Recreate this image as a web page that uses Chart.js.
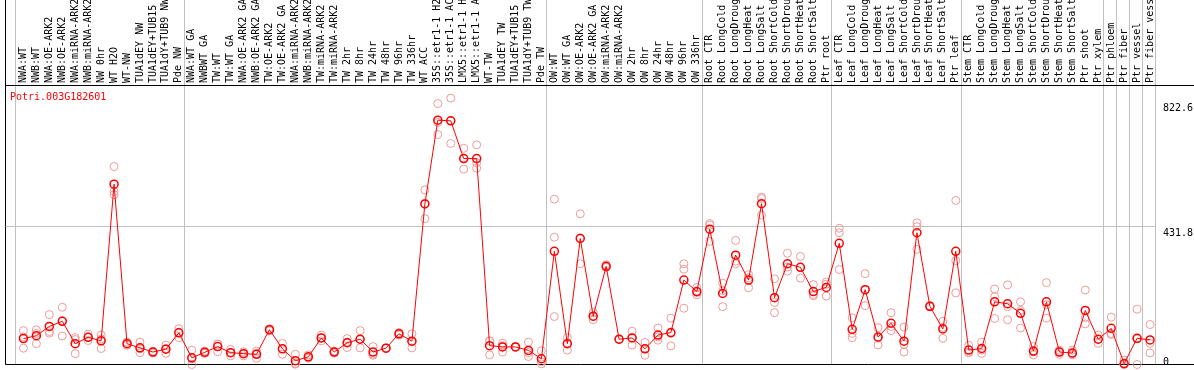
<!DOCTYPE html>
<html lang="en">
<head>
    <meta charset="UTF-8">
    <title>Potri.003G182601</title>
    <script src="https://cdn.jsdelivr.net/npm/chart.js@4.4.1/dist/chart.umd.min.js"></script>
    <style>
        body {
            margin: 0;
            background: #ffffff;
        }
        .chart-box {
            position: relative;
            width: 1194px;
            height: 370px;
        }
        .gene-name {
            position: absolute;
            left: 10px;
            top: 92px;
            font: 10px/10px 'DejaVu Sans Mono', monospace;
            color: #ff0000;
        }
    </style>
</head>
<body>
    <div class="chart-box">
        <canvas id="chart"></canvas>
        <div class="gene-name">Potri.003G182601</div>
    </div>

    <script>
        // Sample names, left to right
        const categories = [
            "NWA:WT", "NWB:WT", "NWA:OE-ARK2", "NWB:OE-ARK2", "NWA:miRNA-ARK2", "NWB:miRNA-ARK2",
            "NW 0hr", "WT H2O", "WT-NW", "TUA1dEY NW", "TUA1dEY+TUB15 NW", "TUA1dY+TUB9 NW", "Pde NW",
            "NWA:WT GA", "NWBWT GA", "TW:WT", "TW:WT GA", "NWA:OE-ARK2 GA", "NWB:OE-ARK2 GA",
            "TW:OE-ARK2", "TW:OE-ARK2 GA", "NWA:miRNA-ARK2 GA", "NWB:miRNA-ARK2 GA", "TW:miRNA-ARK2 GA",
            "TW:miRNA-ARK2", "TW 2hr", "TW 8hr", "TW 24hr", "TW 48hr", "TW 96hr", "TW 336hr", "WT ACC",
            "35S::etr1-1 H2O", "35S::etr1-1 ACC", "LMX5::etr1-1 H2O", "LMX5::etr1-1 ACC", "WT-TW",
            "TUA1dEY TW", "TUA1dEY+TUB15 TW", "TUA1dY+TUB9 TW", "Pde TW",
            "OW:WT", "OW:WT GA", "OW:OE-ARK2", "OW:OE-ARK2 GA", "OW:miRNA-ARK2", "OW:miRNA-ARK2 GA",
            "OW 2hr", "OW 8hr", "OW 24hr", "OW 48hr", "OW 96hr", "OW 336hr",
            "Root CTR", "Root LongCold", "Root LongDrought", "Root LongHeat", "Root LongSalt",
            "Root ShortCold", "Root ShortDrought", "Root ShortHeat", "Root ShortSalt", "Ptr root",
            "Leaf CTR", "Leaf LongCold", "Leaf LongDrought", "Leaf LongHeat", "Leaf LongSalt",
            "Leaf ShortCold", "Leaf ShortDrought", "Leaf ShortHeat", "Leaf ShortSalt", "Ptr leaf",
            "Stem CTR", "Stem LongCold", "Stem LongDrought", "Stem LongHeat", "Stem LongSalt",
            "Stem ShortCold", "Stem ShortDrought", "Stem ShortHeat", "Stem ShortSalt", "Ptr shoot", "Ptr xylem",
            "Ptr phloem", "Ptr fiber", "Ptr vessel", "Ptr fiber vessel"
        ];

        // number of samples in each block between the grey separators
        const groupSizes = [13, 28, 12, 10, 10, 11, 1, 1, 1, 1];

        // mean expression
        const meanValues = [
            81, 90, 119, 135, 65, 85, 74, 564, 65, 52, 39, 48, 99,
            21, 38, 56, 37, 34, 32, 109, 49, 12, 24, 83, 39, 68, 79, 39, 51, 96, 73, 502,
            764, 762, 644, 644, 59, 55, 55, 44, 18,
            354, 65, 394, 151, 307, 79, 83, 49, 92, 100, 264, 228,
            423, 222, 342, 264, 503, 209, 315, 304, 228, 241,
            379, 110, 234, 86, 129, 73, 412, 182, 111, 354,
            45, 50, 196, 190, 160, 42, 196, 39, 36, 169, 79,
            113, 3, 82, 77
        ];

        // replicates
        const rep1 = [
            106, 108, 156, 179, 84, 95, 92, 619, 70, 70, 40, 61, 112,
            45, 42, 64, 47, 40, 42, 112, 66, 32, 30, 92, 39, 81, 106, 56, 52, 100, 96, 546,
            816, 833, 676, 687, 73, 67, 56, 70, 43,
            517, 84, 471, 163, 312, 80, 104, 69, 114, 145, 315, 241,
            441, 254, 388, 281, 523, 268, 348, 338, 250, 258,
            426, 146, 284, 115, 162, 117, 443, 184, 135, 513,
            60, 70, 236, 249, 196, 56, 256, 45, 45, 233, 92,
            148, 14, 173, 125
        ];
        const rep2 = [
            51, 65, 98, 89, 78, 85, 80, 541, 60, 37, 36, 50, 84,
            0, 35, 40, 27, 27, 19, 105, 32, 3, 20, 83, 36, 53, 52, 32, 50, 96, 52, 456,
            719, 691, 611, 614, 30, 39, 54, 37, 2,
            398, 45, 315, 140, 305, 78, 61, 29, 76, 58, 298, 218,
            436, 181, 315, 240, 467, 194, 292, 270, 215, 214,
            412, 97, 184, 61, 106, 39, 431, 180, 82, 325,
            38, 35, 212, 140, 169, 30, 145, 32, 30, 127, 66,
            97, 1, 0, 66
        ];
        const rep3 = [
            86, 97, 103, 137, 34, 75, 50, 531, 65, 49, 41, 35, 101,
            18, 37, 64, 37, 35, 35, 110, 49, 1, 22, 74, 42, 70, 79, 29, 51, 92, 71, 504,
            757, 762, 645, 631, 74, 59, 55, 25, 9,
            150, 66, 396, 150, 304, 79, 84, 49, 86, 97, 176, 225,
            385, 231, 323, 271, 519, 162, 305, 304, 219, 251,
            297, 84, 234, 82, 119, 63, 360, 182, 116, 224,
            37, 45, 144, 181, 114, 40, 187, 40, 33, 147, 79,
            94, 0, 80, 36
        ];

        // right axis labels
        const yTickValues = [0, 431.8, 822.6];

        const Y_MAX = 874;
        const STEP = 13;                 // px per sample
        const X_MIN = -18 / STEP;        // plot starts 18px left of the first sample
        const X_MAX = X_MIN + 1155 / STEP;
        const SEP_SHIFT = 7.5 / STEP;    // separators sit a bit left of the midpoint

        const FONT = { family: "'DejaVu Sans Mono', monospace", size: 10 };
        const GREY = '#c0c0c0';
        const CLEAR = 'rgba(0,0,0,0)';

        // separator positions in axis units
        const separators = [];
        let acc = 0;
        separators.push(acc - SEP_SHIFT);
        groupSizes.forEach(n => {
            acc += n;
            separators.push(acc - SEP_SHIFT);
        });

        function toPoints(values) {
            return values.map((v, i) => ({ x: i, y: v }));
        }

        function xTickColor(ctx) {
            const v = ctx.tick ? ctx.tick.value : null;
            if (v === X_MIN) return '#000000';
            if (v === null || Number.isInteger(v)) return CLEAR;
            return GREY;
        }

        function yGridColor(ctx) {
            const v = ctx.tick ? ctx.tick.value : null;
            if (v === 0 || v === Y_MAX) return '#000000';
            if (v === yTickValues[1]) return GREY;
            return CLEAR;
        }

        function yTickMarkColor(ctx) {
            const v = ctx.tick ? ctx.tick.value : null;
            return (v === 0 || v === Y_MAX) ? '#000000' : CLEAR;
        }

        const replicatePoints = [rep1, rep2, rep3].flatMap(toPoints);

        new Chart(document.getElementById('chart'), {
            type: 'line',
            data: {
                datasets: [
                    {
                        label: 'mean',
                        data: toPoints(meanValues),
                        order: 0,
                        borderColor: '#ff0000',
                        borderWidth: 1,
                        pointRadius: 4,
                        pointBorderWidth: 1.5,
                        pointBorderColor: '#ff0000',
                        pointBackgroundColor: CLEAR,
                        tension: 0,
                        clip: false
                    },
                    {
                        label: 'replicates',
                        data: replicatePoints,
                        order: 1,
                        showLine: false,
                        pointRadius: 4,
                        pointBorderWidth: 1,
                        pointBorderColor: '#ee9a9a',
                        pointBackgroundColor: CLEAR,
                        clip: false
                    }
                ]
            },
            options: {
                responsive: true,
                maintainAspectRatio: false,
                animation: false,
                events: [],
                layout: {
                    padding: { left: 1, right: 0, top: 0, bottom: 2 }
                },
                plugins: {
                    legend: { display: false },
                    tooltip: { enabled: false }
                },
                scales: {
                    x: {
                        type: 'linear',
                        position: 'top',
                        min: X_MIN,
                        max: X_MAX,
                        afterBuildTicks: scale => {
                            const vals = separators.concat([X_MIN], categories.map((c, i) => i));
                            vals.sort((a, b) => a - b);
                            scale.ticks = vals.map(v => ({ value: v }));
                        },
                        afterFit: scale => {
                            scale.height = 85;
                            scale.paddingLeft = 0;
                            scale.paddingRight = 0;
                        },
                        border: { display: true, color: '#000000', width: 1 },
                        grid: {
                            color: xTickColor,
                            tickColor: xTickColor,
                            tickLength: 86,
                            lineWidth: 1
                        },
                        ticks: {
                            autoSkip: false,
                            minRotation: 90,
                            maxRotation: 90,
                            padding: -84,
                            labelOffset: 12,   // rotated top labels land one line left of the tick
                            color: '#000000',
                            font: FONT,
                            callback: v => Number.isInteger(v) ? categories[v] : ''
                        }
                    },
                    y: {
                        type: 'linear',
                        position: 'right',
                        min: 0,
                        max: Y_MAX,
                        afterBuildTicks: scale => {
                            scale.ticks = [Y_MAX].concat(yTickValues.slice().reverse()).map(v => ({ value: v }));
                        },
                        afterFit: scale => {
                            scale.width = 38;
                            scale.paddingTop = 0;
                            scale.paddingBottom = 0;
                        },
                        border: { display: false },
                        grid: {
                            color: yGridColor,
                            tickColor: yTickMarkColor,
                            tickLength: 38,
                            lineWidth: 1
                        },
                        ticks: {
                            align: 'start',
                            crossAlign: 'near',
                            padding: -31,
                            labelOffset: 2,
                            color: '#000000',
                            font: { family: FONT.family, size: 10, lineHeight: 0.9 },
                            // extra empty lines lift the "0" above the bottom frame
                            callback: v => v === 0 ? ['0', '', ''] : (v === Y_MAX ? '' : String(v))
                        }
                    }
                }
            }
        });
    </script>
</body>
</html>
